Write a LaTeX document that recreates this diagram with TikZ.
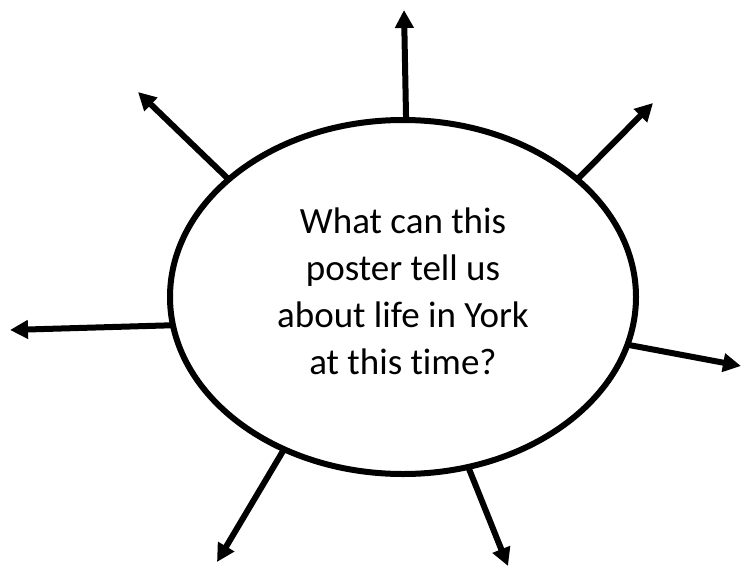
\documentclass[tikz,border=0pt]{standalone}
\usepackage{fontspec}
\setmainfont{Carlito}[Ligatures=NoCommon]
\usetikzlibrary{arrows.meta, shapes.geometric}
\definecolor{lineMain}{HTML}{000000}
\definecolor{textMain}{HTML}{000000}
\tikzset{
  bubble/.style={
    draw=lineMain, ellipse, line width=6pt, inner sep=0pt, outer sep=0pt,
    minimum width=466pt, minimum height=354pt,
    font=\fontsize{37}{47}\selectfont, text=textMain, align=center,
    text depth=11pt,
  },
  spoke/.style={
    -{Triangle[length=18pt, width=18pt]}, line width=6pt, color=lineMain,
  },
}
\begin{document}
\begin{tikzpicture}[x=1pt, y=-1pt]

  % === Page frame ===
  \useasboundingbox (0,0) rectangle (741,567);

  % === Centre question ===
  \node[bubble] (question) at (403,297) {What can this\\poster tell us\\about life in York\\at this time?};

  % === Free ends of the spokes ===
  \coordinate (tipN)  at (404,10);
  \coordinate (tipNW) at (138,92);
  \coordinate (tipNE) at (653,103);
  \coordinate (tipW)  at (10,330);
  \coordinate (tipE)  at (741,366);
  \coordinate (tipSW) at (217,562);
  \coordinate (tipSE) at (508,566);

  % === Spokes ===
  \draw[spoke] (question.89)    -- (tipN);
  \draw[spoke] (question.146.2) -- (tipNW);
  \draw[spoke] (question.34.2)  -- (tipNE);
  \draw[spoke] (question.187.2) -- (tipW);
  \draw[spoke] (question.348.6) -- (tipE);
  \draw[spoke] (question.232)   -- (tipSW);
  \draw[spoke] (question.291.2) -- (tipSE);

\end{tikzpicture}
\end{document}
